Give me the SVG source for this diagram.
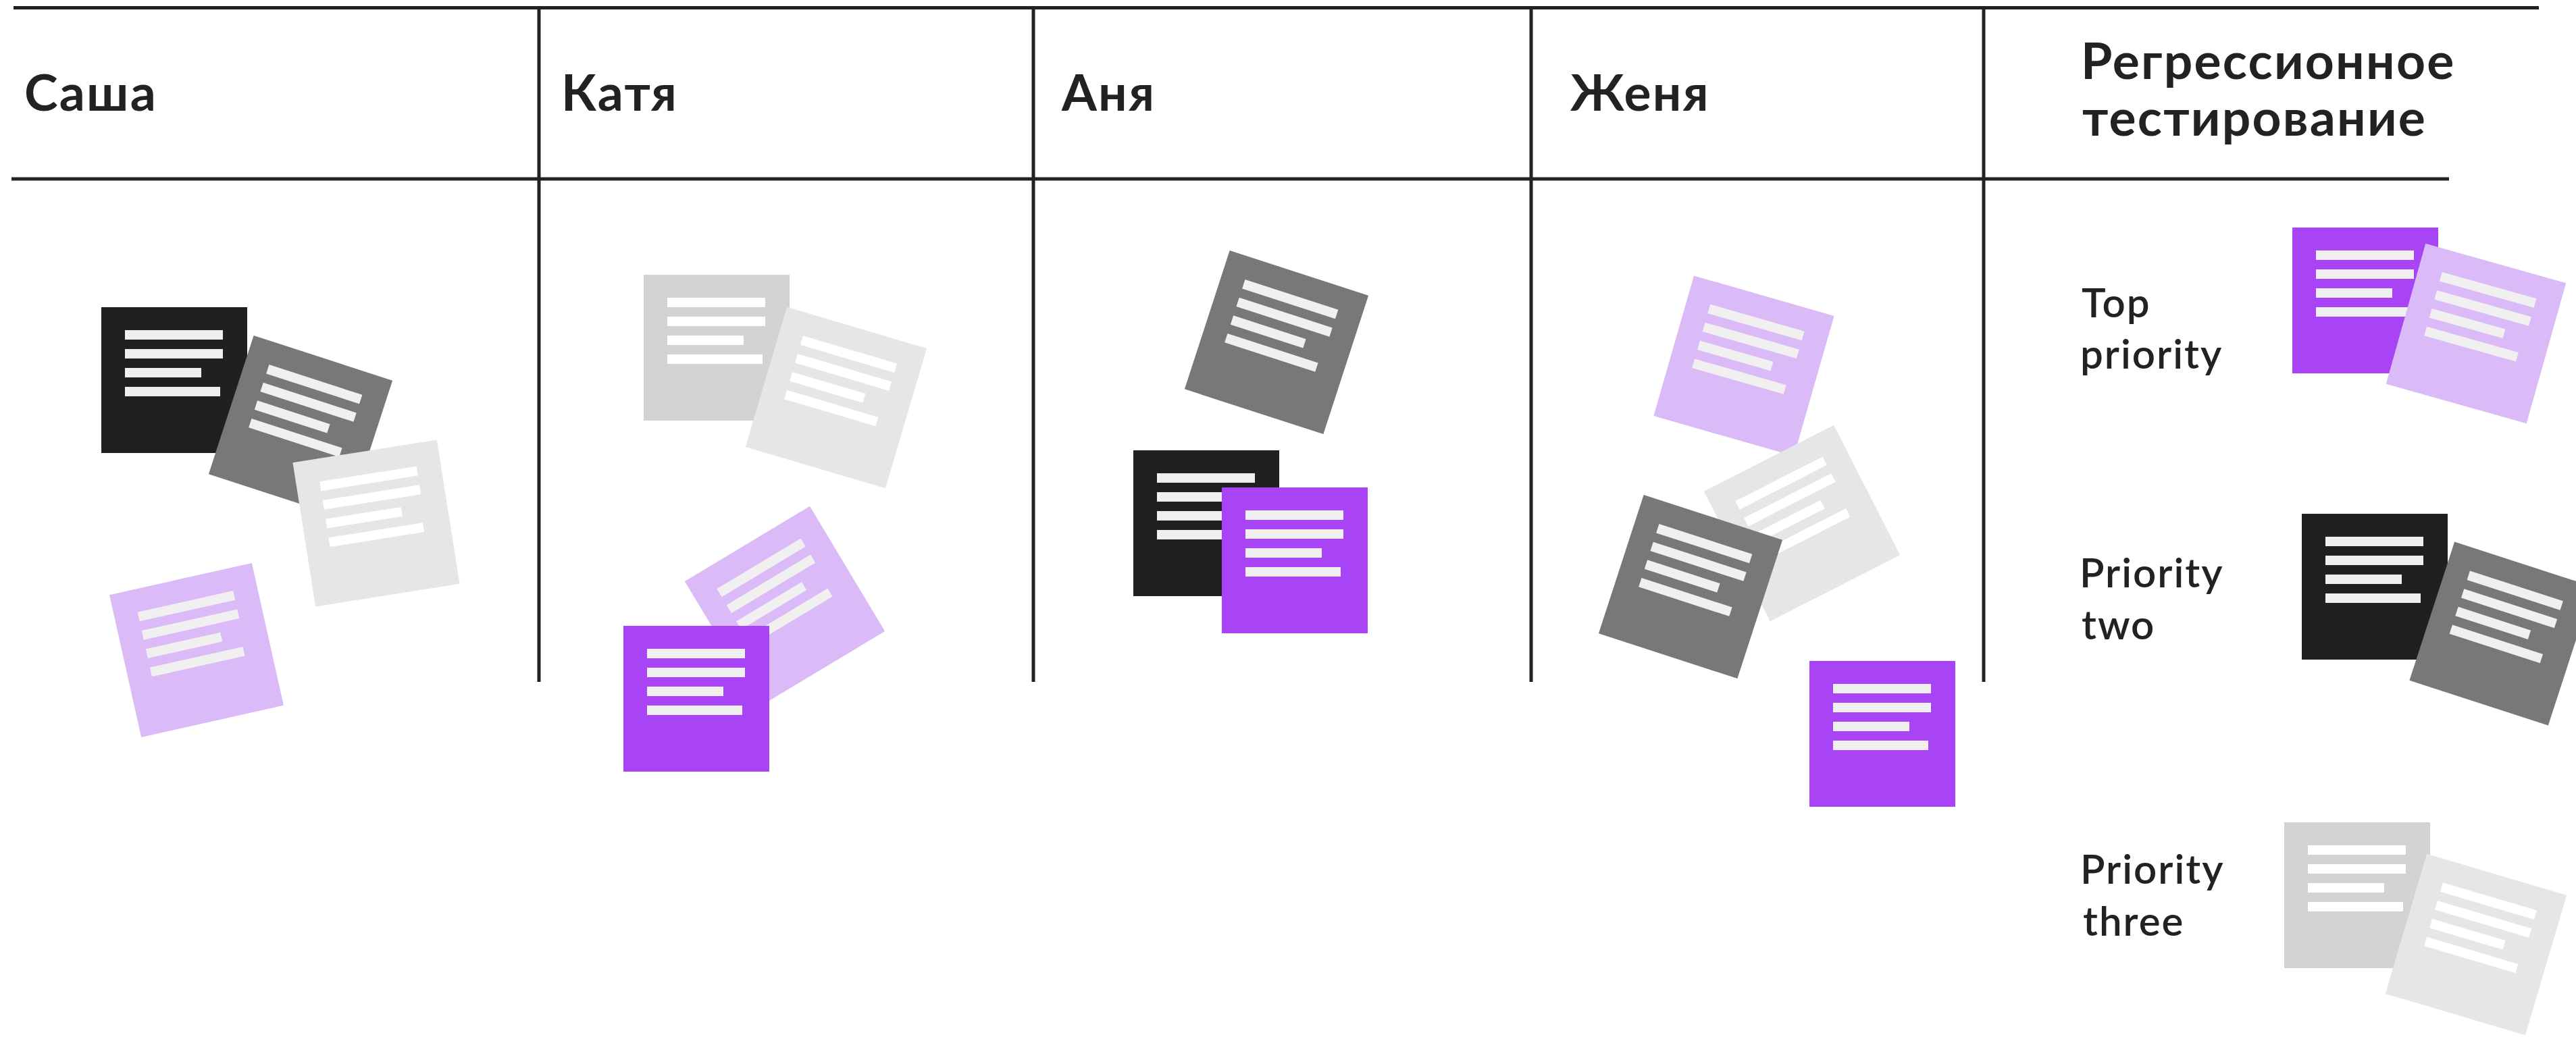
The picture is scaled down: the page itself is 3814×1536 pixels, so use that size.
<svg xmlns="http://www.w3.org/2000/svg" xmlns:xlink="http://www.w3.org/1999/xlink" width="3814" height="1536" viewBox="0 0 3814 1536">
<style>
.grid line{stroke:#222222;stroke-width:5;}
.head{font-family:Lato,"Noto Sans",sans-serif;font-weight:700;font-size:75px;letter-spacing:2.2px;fill:#222222;}
.lab{font-family:Lato,"Noto Sans",sans-serif;font-weight:600;font-size:60px;letter-spacing:2px;fill:#222222;}
.black{fill:#202020;}
.dgray{fill:#787878;}
.lgray{fill:#e6e6e6;}
.mgray{fill:#d3d3d3;}
.lilac{fill:#dabbf8;}
.purple{fill:#a843f6;}
.bd{fill:#f0f0f0;}
.bw{fill:#ffffff;}
</style>
<defs>
<g id="bars">
<rect x="-73" y="-74" width="145" height="14"/>
<rect x="-73" y="-46" width="145" height="14"/>
<rect x="-73" y="-18" width="113" height="14"/>
<rect x="-73" y="10" width="141" height="14"/>
</g>
<rect id="sheet" x="-108" y="-108" width="216" height="216"/>
</defs>
<rect width="3814" height="1536" fill="#ffffff"/>
<g id="grid" class="grid">
<line x1="20" y1="11.5" x2="3759" y2="11.5"/>
<line x1="17" y1="265" x2="3626" y2="265"/>
<line x1="798" y1="11.5" x2="798" y2="1010"/>
<line x1="1530" y1="11.5" x2="1530" y2="1010"/>
<line x1="2267" y1="11.5" x2="2267" y2="1010"/>
<line x1="2937" y1="11.5" x2="2937" y2="1010"/>
</g>
<g id="headers">
<text id="h-sasha" class="head" x="36" y="164">Саша</text>
<text id="h-katya" class="head" x="831" y="164">Катя</text>
<text id="h-anya" class="head" x="1572" y="164">Аня</text>
<text id="h-zhenya" class="head" x="2325" y="164">Женя</text>
<text id="h-regress" class="head" x="3081" y="117">Регрессионное<tspan x="3083" y="201">тестирование</tspan></text>
</g>
<g id="labels">
<text id="l-top" class="lab" x="3082" y="470">Top<tspan x="3080" y="546">priority</tspan></text>
<text id="l-two" class="lab" x="3079" y="870">Priority<tspan x="3082" y="947">two</tspan></text>
<text id="l-three" class="lab" x="3080" y="1309">Priority<tspan x="3084" y="1386">three</tspan></text>
</g>
<g id="col-sasha">
<g id="s1" transform="translate(258,563)"><use href="#sheet" class="black"/><use href="#bars" class="bd"/></g>
<g id="s2" transform="translate(445,633) rotate(18)"><use href="#sheet" class="dgray"/><use href="#bars" class="bd"/></g>
<g id="s3" transform="translate(557,775) rotate(-9)"><use href="#sheet" class="lgray"/><use href="#bars" class="bw"/></g>
<g id="s4" transform="translate(291,963) rotate(-12.6)"><use href="#sheet" class="lilac"/><use href="#bars" class="bd"/></g>
</g>
<g id="col-katya">
<g id="k1" transform="translate(1061,515)"><use href="#sheet" class="mgray"/><use href="#bars" class="bw"/></g>
<g id="k2" transform="translate(1238,589) rotate(16.5)"><use href="#sheet" class="lgray"/><use href="#bars" class="bw"/></g>
<g id="k3" transform="translate(1162,898) rotate(-31)"><use href="#sheet" class="lilac"/><use href="#bars" class="bd"/></g>
<g id="k4" transform="translate(1031,1035)"><use href="#sheet" class="purple"/><use href="#bars" class="bd"/></g>
</g>
<g id="col-anya">
<g id="a1" transform="translate(1890,507) rotate(18)"><use href="#sheet" class="dgray"/><use href="#bars" class="bd"/></g>
<g id="a2" transform="translate(1786,775)"><use href="#sheet" class="black"/><use href="#bars" class="bd"/></g>
<g id="a3" transform="translate(1917,830)"><use href="#sheet" class="purple"/><use href="#bars" class="bd"/></g>
</g>
<g id="col-zhenya">
<g id="z1" transform="translate(2582,542) rotate(16)"><use href="#sheet" class="lilac"/><use href="#bars" class="bd"/></g>
<g id="z2" transform="translate(2668,775) rotate(-27)"><use href="#sheet" class="lgray"/><use href="#bars" class="bw"/></g>
<g id="z3" transform="translate(2503,869) rotate(18)"><use href="#sheet" class="dgray"/><use href="#bars" class="bd"/></g>
<g id="z4" transform="translate(2787,1087)"><use href="#sheet" class="purple"/><use href="#bars" class="bd"/></g>
</g>
<g id="col-regress">
<g id="r1" transform="translate(3502,445)"><use href="#sheet" class="purple"/><use href="#bars" class="bd"/></g>
<g id="r2" transform="translate(3666,494) rotate(15.7)"><use href="#sheet" class="lilac"/><use href="#bars" class="bd"/></g>
<g id="r3" transform="translate(3516,869)"><use href="#sheet" class="black"/><use href="#bars" class="bd"/></g>
<g id="r4" transform="translate(3703.5,938.5) rotate(18)"><use href="#sheet" class="dgray"/><use href="#bars" class="bd"/></g>
<g id="r5" transform="translate(3490,1326)"><use href="#sheet" class="mgray"/><use href="#bars" class="bw"/></g>
<g id="r6" transform="translate(3666,1399) rotate(16.5)"><use href="#sheet" class="lgray"/><use href="#bars" class="bw"/></g>
</g>
</svg>
